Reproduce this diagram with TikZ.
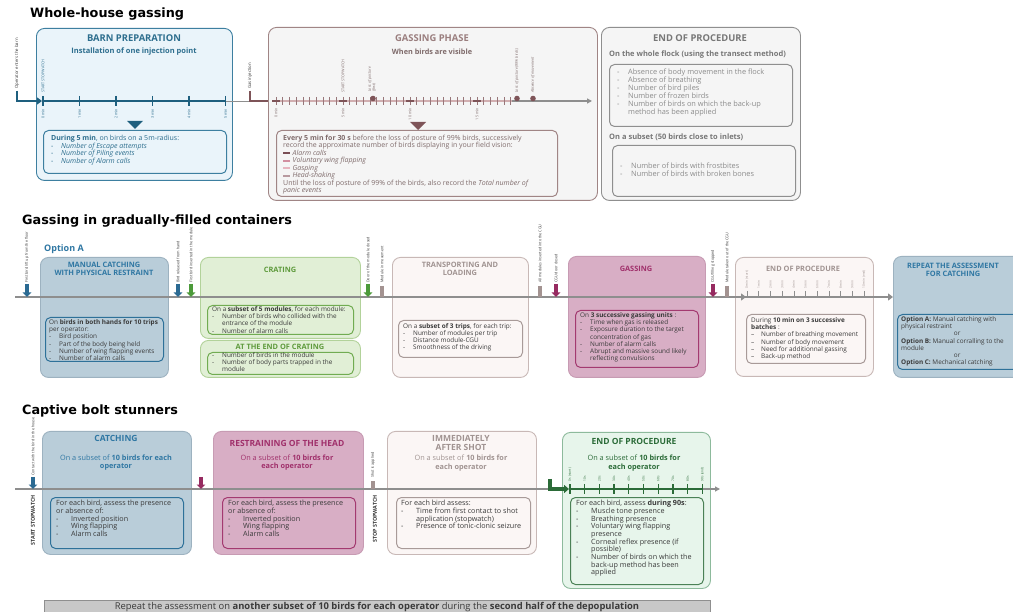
\documentclass[tikz,border=0pt]{standalone}
\usepackage{fontspec}
\setmainfont{Open Sans}
\newfontfamily\headfont{DejaVu Sans}
\usetikzlibrary{arrows.meta}
\definecolor{barnF}{HTML}{EAF4FA}
\definecolor{barnB}{HTML}{3D7FA0}
\definecolor{tealD}{HTML}{1E5F7E}
\definecolor{barnT}{HTML}{2D6E8E}
\definecolor{roseB}{HTML}{A08585}
\definecolor{roseT}{HTML}{9A7E7E}
\definecolor{roseD}{HTML}{7E5458}
\definecolor{roseL}{HTML}{D1AEB0}
\definecolor{roseX}{HTML}{7F6B6B}
\definecolor{greyF}{HTML}{F5F5F5}
\definecolor{greyB}{HTML}{8F8F8F}
\definecolor{eopT}{HTML}{777777}
\definecolor{eopX}{HTML}{8C8C8C}
\definecolor{blueF}{HTML}{B9CDD9}
\definecolor{blueB}{HTML}{9DB2C0}
\definecolor{blueT}{HTML}{2F77A3}
\definecolor{blueI}{HTML}{2E7199}
\definecolor{arrT}{HTML}{2B6A92}
\definecolor{greenF}{HTML}{E1EFD6}
\definecolor{greenB}{HTML}{B2D29A}
\definecolor{greenT}{HTML}{5E9A3C}
\definecolor{greenI}{HTML}{71AC52}
\definecolor{greenA}{HTML}{4C9A3A}
\definecolor{pinkF}{HTML}{FBF6F5}
\definecolor{pinkB}{HTML}{C8B8B6}
\definecolor{pinkT}{HTML}{A09391}
\definecolor{pinkI}{HTML}{A89A98}
\definecolor{pinkA}{HTML}{A39391}
\definecolor{magF}{HTML}{D8AEC5}
\definecolor{magB}{HTML}{C79BB3}
\definecolor{magT}{HTML}{A0306B}
\definecolor{magI}{HTML}{A33A70}
\definecolor{magA}{HTML}{962A60}
\definecolor{mintF}{HTML}{E7F5EB}
\definecolor{mintB}{HTML}{8DBA9C}
\definecolor{dkG}{HTML}{2B6B38}
\definecolor{axisG}{HTML}{8E8E8E}
\definecolor{banF}{HTML}{C8C8C8}
\definecolor{txt}{HTML}{3A3A3A}
\definecolor{lgA}{HTML}{7A4F55}
\definecolor{lgB}{HTML}{D28FA0}
\definecolor{lgC}{HTML}{E7B5BF}
\definecolor{lgD}{HTML}{B89AA0}
\newcommand\li{\makebox[10pt][l]{-}}
\newcommand\lc{\hspace*{10pt}}
\newcommand\lib{\makebox[15pt][l]{-}}
\newcommand\lcb{\hspace*{15pt}}
\newcommand\lgd[1]{\textcolor{#1}{\rule[0.8pt]{6.5pt}{1.8pt}}\hspace{3pt}}
\newcommand\bx[6]{\node[#2, anchor=north west, minimum width={(#5-#3)*1pt}, minimum height={(#6-#4)*1pt}, inner sep=0pt] (#1) at (#3,#4) {};}
\tikzset{
 hd/.style={font=\headfont\bfseries\fontsize{12.8}{14}\selectfont, anchor=west, inner sep=0pt},
 bt/.style={font=\fontsize{7.0}{7.5}\selectfont, align=left, anchor=north west, inner sep=0pt},
 bm/.style={font=\fontsize{6.4}{7.2}\selectfont, align=left, anchor=north west, inner sep=0pt},
 bb/.style={font=\fontsize{7.2}{7.7}\selectfont, align=left, anchor=north west, inner sep=0pt},
 t1/.style={font=\bfseries\fontsize{9.4}{11}\selectfont, inner sep=0pt, align=center},
 t2/.style={font=\bfseries\fontsize{7.4}{8}\selectfont, inner sep=0pt, align=center},
 t3/.style={font=\bfseries\fontsize{8.5}{9.2}\selectfont, inner sep=0pt, align=center},
 sb/.style={font=\fontsize{7.3}{8.2}\selectfont, inner sep=0pt, align=center},
 vl/.style={font=\fontsize{3.7}{4.3}\selectfont, rotate=90, anchor=west, inner sep=0pt, align=left},
 vd/.style={font=\fontsize{3.7}{4.3}\selectfont, rotate=90, anchor=east, inner sep=0pt},
 ob/.style={draw, rounded corners=8pt, line width=0.9pt},
 ib/.style={draw, rounded corners=5pt, line width=1pt},
 mk/.style={line width=3.6pt, -{Triangle[width=8.5pt,length=4.5pt]}},
 bar/.style={line width=4.5pt},
 Lar/.style={line width=2.6pt, -{Triangle[width=7pt,length=5pt]}},
 ax/.style={axisG, line width=2pt},
}
\begin{document}
\begin{tikzpicture}[x=1pt,y=-1pt]
\useasboundingbox[fill=white] (0,0) rectangle (1013,612);

%================ Whole-house gassing =================
\node[hd] (h1) at (30,14) {Whole-house gassing};

% Barn preparation
\bx{barn}{ob, draw=barnB, fill=barnF}{36}{28}{232}{180}
\node[t1, text=barnT] (barnTi) at (134,38) {BARN PREPARATION};
\node[sb, font=\bfseries\fontsize{7.5}{8.5}\selectfont, text=barnT] (barnSu) at (134,52) {Installation of one injection point};
\node[vl, text=txt, font=\fontsize{4.3}{5}\selectfont] (opl) at (17,89) {Operator enters the barn};
\coordinate (opS) at (17,91);
\coordinate (opE) at (42,101);
\draw[Lar, tealD] (opS) |- (opE);
\draw[tealD, line width=1.6pt] (43,101) -- (226,101);
\foreach \i/\l in {0/0 min,1/1 min,2/2 min,3/3 min,4/4 min,5/5 min}{
  \draw[tealD, line width=1.2pt] ({43+\i*36.5},96) -- ({43+\i*36.5},106);
  \node[vd, text=barnT] (bl\i) at ({43+\i*36.5},109) {\l};
}
\node[vl, text=barnT] (ss1) at (43,93) {START STOPWATCH};
\draw[axisG, line width=0.8pt] (226,101) -- (250,101);
\node[vl, text=txt, font=\fontsize{4.3}{5}\selectfont] (gil) at (250,89) {Gas injection};
\coordinate (giS) at (250,91);
\coordinate (giE) at (273,101);
\draw[Lar, roseD] (giS) |- (giE);
\fill[tealD] (127,121) -- (143,121) -- (135,129) -- cycle;
\bx{barnI}{ib, draw=barnB, fill=barnF}{43}{130}{226}{173}
\node[bt, text=barnT] (barnTx) at (51,135) {\textbf{During 5 min}, on birds on a 5m-radius:\\
\li\textit{Number of Escape attempts}\\
\li\textit{Number of Piling events}\\
\li\textit{Number of Alarm calls}};

% Gassing phase
\bx{gp}{ob, draw=roseB, fill=greyF}{268}{27}{597}{200}
\node[t1, text=roseT] (gpTi) at (432,38) {GASSING PHASE};
\node[sb, font=\bfseries\fontsize{7.3}{8.5}\selectfont, text=roseX] (gpSu) at (432,52) {When birds are visible};
\draw[axisG, line width=1.2pt, -{Triangle[width=5pt,length=5pt]}] (274,101) -- (592,101);
\draw[roseL, line width=1.6pt] (276,101) -- (512,101);
\foreach \i in {0,...,35}{
  \draw[roseD!80, line width=0.6pt] ({276+\i*6.7},97) -- ({276+\i*6.7},105);
}
\foreach \i in {0,10,20,30}{
  \draw[roseD, line width=1.6pt] ({276+\i*6.7-4},101) -- ({276+\i*6.7+4},101);
}
\foreach \i/\l in {0/0 min,10/5 min,20/10 min,30/15 min}{
  \node[vd, text=roseX] (gl\i) at ({276+\i*6.7},108) {\l};
}
\node[vl, text=roseX] (ss2) at (343,93) {START STOPWATCH};
\node[vl, text=roseX] (lp1) at (372,92) {\textit{Loss of posture}\\\textit{(first)}};
\node[vl, text=roseX] (lp2) at (517,93) {\textit{Loss of posture (99\% birds)}};
\node[vl, text=roseX] (abm) at (533,93) {\textit{Absence of movement}};
\fill[roseD] (373,98.5) circle (2.8);
\fill[roseD] (517,98.5) circle (2.8);
\fill[roseD] (533,98.5) circle (2.8);
\fill[roseD] (410,122) -- (426,122) -- (418,130) -- cycle;
\bx{gpI}{ib, draw=roseB, fill=greyF}{276}{130}{557}{196}
\node[bt, text=roseX] (gpTx) at (283,134.5) {\textbf{Every 5 min for 30 s} before the loss of posture of 99\% birds, successively\\
record the approximate number of birds displaying in your field vision:\\
\lgd{lgA}\textit{Alarm calls}\\
\lgd{lgB}\textit{Voluntary wing flapping}\\
\lgd{lgC}\textit{Gasping}\\
\lgd{lgD}\textit{Head-shaking}\\
Until the loss of posture of 99\% of the birds, also record the \textit{Total number of}\\
\textit{panic events}};

% End of procedure (top)
\bx{eop1}{ob, draw=greyB, fill=greyF}{601}{27}{800}{200}
\node[t1, text=eopT] (eop1T) at (700,38) {END OF PROCEDURE};
\node[anchor=west, inner sep=0pt, font=\bfseries\fontsize{7.5}{8.5}\selectfont, text=eopT] (wf) at (609,55) {On the whole flock (using the transect method)};
\bx{eop1a}{ib, draw=greyB, fill=greyF}{609}{64}{792}{126}
\node[bt, font=\fontsize{7.4}{8}\selectfont, text=eopX] (eop1aT) at (617,68.5) {\makebox[11pt][l]{-}Absence of body movement in the flock\\
\makebox[11pt][l]{-}Absence of breathing\\
\makebox[11pt][l]{-}Number of bird piles\\
\makebox[11pt][l]{-}Number of frozen birds\\
\makebox[11pt][l]{-}Number of birds on which the back-up\\
\hspace*{11pt}method has been applied};
\node[anchor=west, inner sep=0pt, font=\bfseries\fontsize{7.5}{8.5}\selectfont, text=eopT] (sbs) at (609,137) {On a subset (50 birds close to inlets)};
\bx{eop1b}{ib, draw=greyB, fill=greyF}{612}{145}{795}{196}
\node[bt, font=\fontsize{7.4}{8}\selectfont, text=eopX] (eop1bT) at (620,162.5) {\makebox[11pt][l]{-}Number of birds with frostbites\\
\makebox[11pt][l]{-}Number of birds with broken bones};

%================ Gassing in gradually-filled containers =================
\node[hd] (h2) at (22,221) {Gassing in gradually-filled containers};
\node[anchor=west, inner sep=0pt, font=\bfseries\fontsize{9}{10}\selectfont, text=blueT] (optA) at (44,249) {Option A};

\bx{mc}{ob, draw=blueB, fill=blueF}{40}{257}{168}{377}
\node[t2, text=blueT] (mcT) at (104,268.5) {MANUAL CATCHING\\WITH PHYSICAL RESTRAINT};
\bx{mcI}{ib, draw=blueI, fill=blueF}{45}{317}{163}{361}
\node[bm, text=txt] (mcX) at (49,319.5) {On \textbf{birds in both hands for 10 trips}\\per operator:\\
\li Bird position\\\li Part of the body being held\\\li Number of wing flapping events\\\li Number of alarm calls};

\bx{cr}{ob, draw=greenB, fill=greenF}{200}{257}{360}{338}
\node[t2, text=greenT] (crT) at (280,270) {CRATING};
\bx{crI}{ib, draw=greenI, fill=greenF}{207}{305}{353}{334}
\node[bm, text=txt] (crX) at (212,306.5) {On a \textbf{subset of 5 modules}, for each module:\\
\li Number of birds who collided with the\\\lc entrance of the module\\\li Number of alarm calls};
\bx{ec}{ob, draw=greenB, fill=greenF}{200}{340}{360}{377}
\node[t2, text=greenT] (ecT) at (280,347) {AT THE END OF CRATING};
\bx{ecI}{ib, draw=greenI, fill=greenF}{207}{352}{353}{374}
\node[bm, text=txt] (ecX) at (212,352.5) {\li Number of birds in the module\\\li Number of body parts trapped in the\\\lc module};

\bx{tr}{ob, draw=pinkB, fill=pinkF}{392}{257}{528}{377}
\node[t2, text=pinkT] (trT) at (460,269) {TRANSPORTING AND\\LOADING};
\bx{trI}{ib, draw=pinkI, fill=pinkF}{398}{320}{522}{357}
\node[bm, text=txt] (trX) at (403,323) {On a \textbf{subset of 3 trips}, for each trip:\\
\li Number of modules per trip\\\li Distance module-CGU\\\li Smoothness of the driving};

\bx{gs}{ob, draw=magB, fill=magF}{568}{256}{705}{377}
\node[t2, text=magT] (gsT) at (636,269) {GASSING};
\bx{gsI}{ib, draw=magI, fill=magF}{575}{310}{698}{367}
\node[bm, text=txt] (gsX) at (580,312.5) {On \textbf{3 successive gassing units} :\\
\li Time when gas is released\\\li Exposure duration to the target\\\lc concentration of gas\\\li Number of alarm calls\\\li Abrupt and massive sound likely\\\lc reflecting convulsions};

\bx{eop2}{ob, draw=pinkB, fill=pinkF}{735}{257}{873}{376}
\node[t2, text=pinkT] (eop2T) at (803,269) {END OF PROCEDURE};
\bx{eop2I}{ib, draw=pinkI, fill=pinkF}{746}{314}{865}{363}
\node[bm, text=txt] (eop2X) at (751,317.5) {During \textbf{10 min on 3 successive}\\\textbf{batches} :\\
\makebox[10pt][l]{--}Number of breathing movement\\\makebox[10pt][l]{--}Number of body movement\\
\makebox[10pt][l]{--}Need for additionnal gassing\\\makebox[10pt][l]{--}Back-up method};

\bx{rp}{ob, draw=blueB, fill=blueF}{893}{256}{1030}{377}
\node[t2, text=blueT] (rpT) at (953,269.5) {REPEAT THE ASSESSMENT\\FOR CATCHING};
\bx{rpI}{ib, draw=blueI, fill=blueF}{897}{314}{1030}{369}
\node[bm, text=txt] (rpX) at (901,316.5) {\textbf{Option A:} Manual catching with\\physical restraint\\
\makebox[112pt][c]{or}\\\textbf{Option B:} Manual corralling to the\\module\\
\makebox[112pt][c]{or}\\\textbf{Option C:} Mechanical catching};

% axis
\draw[ax, -{Triangle[width=7pt,length=5pt]}] (15,297) -- (893,297);
\draw[axisG, -{Triangle[width=7pt,length=5pt]}, line width=2pt] (728,297) -- (746,297);
\foreach \i/\l in {0/0 min (start),1/1 min,2/2 min,3/3 min,4/4 min,5/5 min,6/6 min,7/7 min,8/8 min,9/9 min,10/10 min (end)}{
  \draw[axisG, line width=0.6pt] ({747+\i*11.7},291) -- ({747+\i*11.7},297);
  \node[vl, text=pinkT, font=\fontsize{3.2}{4}\selectfont] (el\i) at ({747+\i*11.7},289) {\l};
}
% markers
\node[vl, text=txt] (m1l) at (27,283) {First bird lift up from the floor};
\draw[mk, arrT] (27,284) -- (27,297);
\node[vl, text=txt] (m2l) at (178,283) {Bird released from hand};
\draw[mk, arrT] (178,284) -- (178,297);
\node[vl, text=txt] (m3l) at (191,283) {First bird inserted in the module};
\draw[mk, greenA] (191,284) -- (191,297);
\node[vl, text=txt] (m4l) at (368,283) {Door of the module closed};
\draw[mk, greenA] (368,284) -- (368,297);
\node[vl, text=txt] (m5l) at (382,283) {Module in movement};
\draw[bar, pinkA] (382,286) -- (382,297);
\node[vl, text=txt] (m6l) at (540,283) {All modules inserted into the CGU};
\draw[bar, pinkA] (540,286) -- (540,297);
\node[vl, text=txt] (m7l) at (556,283) {CGU door closed};
\draw[mk, magA] (556,284) -- (556,297);
\node[vl, text=txt] (m8l) at (713,283) {CGU filling stopped};
\draw[mk, magA] (713,284) -- (713,297);
\node[vl, text=txt] (m9l) at (727,283) {Module taken out of the CGU};
\draw[bar, pinkA] (727,286) -- (727,297);

%================ Captive bolt stunners =================
\node[hd] (h3) at (22,411) {Captive bolt stunners};

\bx{ca}{ob, draw=blueB, fill=blueF}{42}{431}{191}{554}
\node[t3, text=blueT] (caT) at (116,438) {CATCHING};
\node[sb, text=blueT] (caS) at (116,462.5) {On a subset of \textbf{10 birds for each}\\\textbf{operator}};
\bx{caI}{ib, draw=blueI, fill=blueF}{50}{497}{183}{548}
\node[bb, text=txt] (caX) at (56,500) {For each bird, assess the presence\\or absence of:\\
\lib Inverted position\\\lib Wing flapping\\\lib Alarm calls};

\bx{rh}{ob, draw=magB, fill=magF}{213}{431}{363}{554}
\node[t3, text=magT] (rhT) at (287,443) {RESTRAINING OF THE HEAD};
\node[sb, text=magT] (rhS) at (287,462.5) {On a subset of \textbf{10 birds for}\\\textbf{each operator}};
\bx{rhI}{ib, draw=magI, fill=magF}{222}{497}{355}{548}
\node[bb, text=txt] (rhX) at (228,500) {For each bird, assess the presence\\or absence of:\\
\lib Inverted position\\\lib Wing flapping\\\lib Alarm calls};

\bx{as}{ob, draw=pinkB, fill=pinkF}{387}{431}{536}{554}
\node[t3, text=pinkT] (asT) at (461,443) {IMMEDIATELY\\AFTER SHOT};
\node[sb, text=pinkT] (asS) at (461,463) {On a subset of \textbf{10 birds for}\\\textbf{each operator}};
\bx{asI}{ib, draw=pinkI, fill=pinkF}{396}{497}{530}{548}
\node[bb, text=txt] (asX) at (401,500) {For each bird assess:\\
\lib Time from first contact to shot\\\lcb application (stopwatch)\\\lib Presence of tonic-clonic seizure};

\bx{ep}{ob, draw=mintB, fill=mintF}{562}{432}{710}{588}
\node[t3, text=dkG] (epT) at (634,441) {END OF PROCEDURE};
\node[sb, text=dkG] (epS) at (634,463) {On a subset of \textbf{10 birds for}\\\textbf{each operator}};
\bx{epI}{ib, draw=dkG!85, fill=mintF}{570}{497}{703}{584}
\node[bb, text=txt] (epX) at (576,500) {For each bird, assess \textbf{during 90s}:\\
\lib Muscle tone presence\\\lib Breathing presence\\\lib Voluntary wing flapping\\\lcb presence\\
\lib Corneal reflex presence (if\\\lcb possible)\\\lib Number of birds on which the\\\lcb back-up method has been\\\lcb applied};

% axis bottom
\draw[axisG, line width=1.4pt] (15,489) -- (552,489);
\coordinate (gLs) at (550,479);
\coordinate (gLe) at (569,489);
\draw[dkG, line width=3.6pt, -{Triangle[width=8pt,length=5pt]}] (gLs) |- (gLe);
\draw[dkG, line width=1.5pt] (569,489) -- (702,489);
\draw[axisG, line width=1.2pt, -{Triangle[width=5pt,length=5pt]}] (702,489) -- (720,489);
\foreach \i/\l in {0/0 s (start),1/10 s,2/20 s,3/30 s,4/40 s,5/50 s,6/60 s,7/70 s,8/80 s,9/90 s (end)}{
  \draw[dkG, line width=1.3pt] ({570+\i*14.7},484) -- ({570+\i*14.7},494);
  \node[vl, text=dkG, font=\fontsize{3.2}{4}\selectfont] (sl\i) at ({570+\i*14.7},482) {\l};
}
\node[vl, text=txt] (cb1) at (33,476) {Contact with the bird in the house};
\draw[mk, arrT] (33,477) -- (33,489);
\draw[mk, magA] (201,477) -- (201,489);
\node[vl, text=txt] (cb2) at (373,478) {Shot is applied};
\draw[bar, pinkA] (373,481) -- (373,489);
\node[vd, font=\bfseries\fontsize{5.4}{6}\selectfont, text=txt] (sst) at (33,495) {START STOPWATCH};
\node[vd, font=\bfseries\fontsize{5.4}{6}\selectfont, text=txt] (spt) at (375,495) {STOP STOPWATCH};

% banner
\bx{ban}{draw=greyB, fill=banF, line width=0.7pt}{44}{600}{710}{620}
\node[inner sep=0pt, font=\fontsize{9.4}{10}\selectfont, text=txt] (banT) at (377,607) {Repeat the assessment on \textbf{another subset of 10 birds for each operator} during the \textbf{second half of the depopulation}};
\end{tikzpicture}
\end{document}
